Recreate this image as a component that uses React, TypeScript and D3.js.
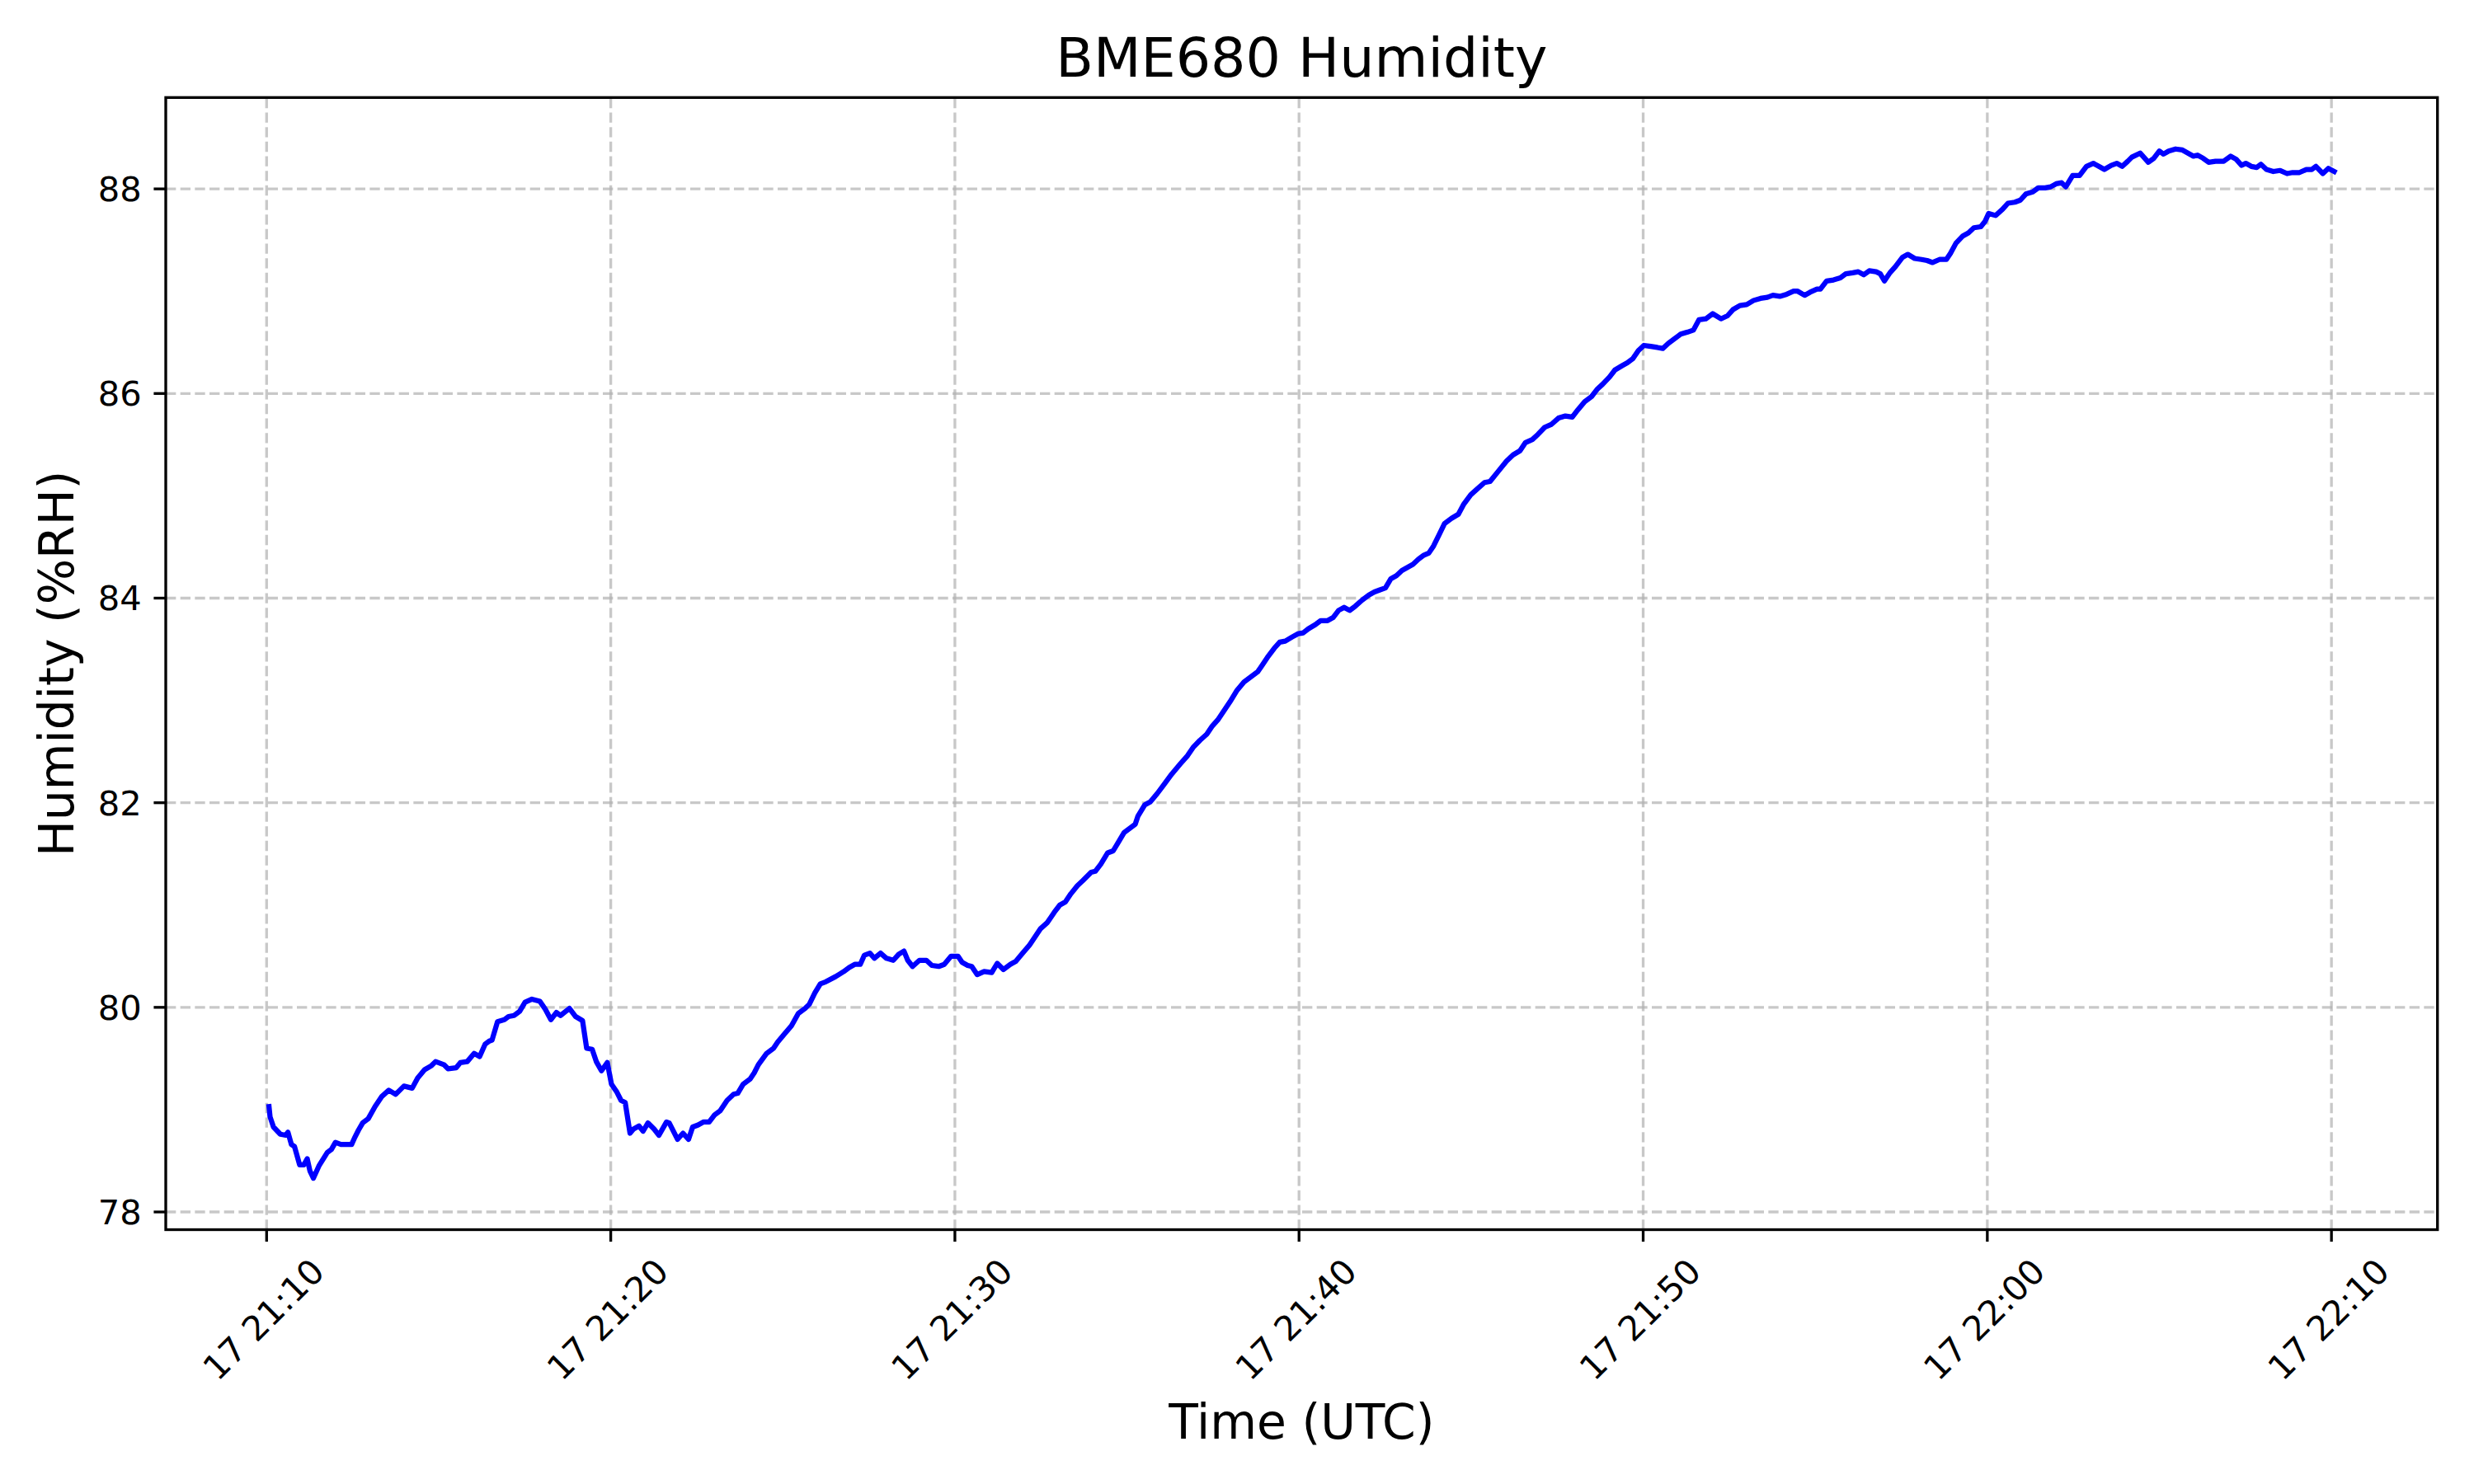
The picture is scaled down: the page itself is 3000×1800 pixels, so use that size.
import { useEffect, useRef } from "react";
import * as d3 from "d3";

// [minutes after 21:10 UTC, relative humidity %RH]
const readings: [number, number][] = [
  [0.07, 79.03], [0.1, 78.93], [0.2, 78.83], [0.4, 78.76], [0.56, 78.75], [0.62, 78.78],
  [0.72, 78.66], [0.81, 78.64], [0.96, 78.46], [1.08, 78.46], [1.18, 78.52], [1.26, 78.4],
  [1.36, 78.33], [1.52, 78.45], [1.76, 78.58], [1.88, 78.61], [2.0, 78.68], [2.16, 78.66],
  [2.47, 78.66], [2.55, 78.72], [2.67, 78.8], [2.79, 78.87], [2.95, 78.91], [3.15, 79.03],
  [3.35, 79.13], [3.55, 79.19], [3.75, 79.15], [3.87, 79.19], [3.99, 79.23], [4.23, 79.21],
  [4.39, 79.31], [4.59, 79.39], [4.79, 79.43], [4.91, 79.47], [5.15, 79.44], [5.27, 79.4],
  [5.51, 79.41], [5.63, 79.46], [5.83, 79.47], [6.03, 79.55], [6.19, 79.52], [6.35, 79.64],
  [6.47, 79.67], [6.55, 79.68], [6.71, 79.86], [6.91, 79.88], [7.03, 79.91], [7.19, 79.92],
  [7.35, 79.96], [7.51, 80.05], [7.71, 80.08], [7.94, 80.06], [8.1, 79.98], [8.26, 79.88],
  [8.42, 79.95], [8.54, 79.92], [8.8, 79.99], [8.98, 79.91], [9.18, 79.87], [9.3, 79.6],
  [9.46, 79.59], [9.58, 79.47], [9.73, 79.38], [9.9, 79.46], [10.02, 79.25], [10.18, 79.17],
  [10.3, 79.09], [10.42, 79.07], [10.56, 78.77], [10.66, 78.81], [10.82, 78.84], [10.94, 78.79],
  [11.08, 78.87], [11.26, 78.81], [11.4, 78.75], [11.62, 78.88], [11.7, 78.87], [11.94, 78.71],
  [12.1, 78.77], [12.26, 78.71], [12.38, 78.83], [12.54, 78.85], [12.7, 78.88], [12.86, 78.88],
  [13.02, 78.95], [13.18, 78.99], [13.38, 79.09], [13.57, 79.15], [13.69, 79.16], [13.85, 79.25],
  [14.05, 79.3], [14.17, 79.36], [14.29, 79.44], [14.53, 79.55], [14.73, 79.6], [14.85, 79.66],
  [15.05, 79.74], [15.25, 79.82], [15.45, 79.94], [15.65, 79.99], [15.77, 80.03], [15.93, 80.14],
  [16.09, 80.23], [16.25, 80.25], [16.53, 80.3], [16.77, 80.35], [16.93, 80.39], [17.09, 80.42],
  [17.25, 80.42], [17.37, 80.51], [17.53, 80.53], [17.66, 80.48], [17.84, 80.53], [18.01, 80.48],
  [18.21, 80.46], [18.37, 80.52], [18.52, 80.55], [18.63, 80.46], [18.77, 80.4], [18.97, 80.46],
  [19.17, 80.46], [19.33, 80.41], [19.53, 80.4], [19.69, 80.42], [19.89, 80.5], [20.09, 80.5],
  [20.21, 80.44], [20.37, 80.41], [20.49, 80.4], [20.65, 80.32], [20.85, 80.35], [21.07, 80.34],
  [21.23, 80.43], [21.41, 80.37], [21.61, 80.42], [21.77, 80.45], [21.97, 80.53], [22.17, 80.61],
  [22.33, 80.69], [22.49, 80.77], [22.69, 80.83], [22.89, 80.93], [23.05, 81.0], [23.21, 81.03],
  [23.37, 81.11], [23.56, 81.19], [23.72, 81.24], [23.96, 81.32], [24.08, 81.33], [24.24, 81.4],
  [24.44, 81.51], [24.6, 81.53], [24.76, 81.62], [24.92, 81.71], [25.08, 81.75], [25.24, 81.79],
  [25.32, 81.87], [25.52, 81.98], [25.68, 82.01], [25.88, 82.09], [26.08, 82.18], [26.3, 82.28],
  [26.55, 82.38], [26.76, 82.46], [26.92, 82.54], [27.12, 82.61], [27.32, 82.67], [27.48, 82.75],
  [27.64, 82.81], [27.8, 82.89], [28.0, 82.99], [28.2, 83.1], [28.4, 83.18], [28.6, 83.23],
  [28.8, 83.28], [28.92, 83.34], [29.08, 83.42], [29.28, 83.51], [29.44, 83.57], [29.6, 83.58],
  [29.8, 83.62], [29.96, 83.65], [30.12, 83.66], [30.27, 83.7], [30.47, 83.74], [30.63, 83.78],
  [30.83, 83.78], [30.99, 83.81], [31.15, 83.88], [31.31, 83.91], [31.47, 83.88], [31.63, 83.92],
  [31.83, 83.98], [32.03, 84.03], [32.19, 84.06], [32.35, 84.08], [32.51, 84.1], [32.67, 84.19],
  [32.83, 84.22], [32.99, 84.27], [33.15, 84.3], [33.31, 84.33], [33.47, 84.38], [33.63, 84.42],
  [33.77, 84.44], [33.91, 84.51], [34.07, 84.62], [34.23, 84.73], [34.43, 84.78], [34.63, 84.82],
  [34.79, 84.92], [34.99, 85.01], [35.19, 85.07], [35.39, 85.13], [35.55, 85.14], [35.79, 85.24],
  [36.03, 85.34], [36.22, 85.4], [36.42, 85.44], [36.58, 85.52], [36.78, 85.55], [36.94, 85.6],
  [37.14, 85.67], [37.34, 85.7], [37.54, 85.76], [37.74, 85.78], [37.94, 85.77], [38.1, 85.84],
  [38.3, 85.92], [38.5, 85.97], [38.66, 86.04], [38.82, 86.09], [39.02, 86.16], [39.18, 86.23],
  [39.38, 86.27], [39.54, 86.3], [39.7, 86.34], [39.86, 86.42], [40.02, 86.47], [40.22, 86.46],
  [40.41, 86.45], [40.57, 86.44], [40.73, 86.49], [40.93, 86.54], [41.09, 86.58], [41.29, 86.6],
  [41.46, 86.62], [41.62, 86.72], [41.82, 86.73], [42.02, 86.78], [42.26, 86.73], [42.45, 86.76],
  [42.61, 86.82], [42.81, 86.86], [43.01, 86.87], [43.21, 86.91], [43.41, 86.93], [43.61, 86.94],
  [43.77, 86.96], [43.97, 86.95], [44.17, 86.97], [44.37, 87.0], [44.49, 87.0], [44.69, 86.96],
  [44.85, 86.99], [45.05, 87.02], [45.15, 87.02], [45.33, 87.1], [45.53, 87.11], [45.73, 87.13],
  [45.89, 87.17], [46.09, 87.18], [46.25, 87.19], [46.41, 87.16], [46.57, 87.2], [46.77, 87.19],
  [46.89, 87.17], [47.01, 87.1], [47.17, 87.18], [47.33, 87.24], [47.53, 87.33], [47.69, 87.36],
  [47.89, 87.32], [48.09, 87.31], [48.25, 87.3], [48.41, 87.28], [48.61, 87.31], [48.81, 87.31],
  [48.93, 87.37], [49.09, 87.47], [49.29, 87.54], [49.45, 87.57], [49.61, 87.62], [49.81, 87.63],
  [49.93, 87.68], [50.04, 87.76], [50.24, 87.74], [50.44, 87.8], [50.6, 87.86], [50.8, 87.87],
  [50.96, 87.89], [51.12, 87.95], [51.32, 87.97], [51.48, 88.01], [51.68, 88.01], [51.84, 88.02],
  [52.0, 88.05], [52.16, 88.06], [52.28, 88.02], [52.48, 88.13], [52.68, 88.13], [52.88, 88.22],
  [53.08, 88.25], [53.24, 88.22], [53.4, 88.19], [53.6, 88.23], [53.76, 88.25], [53.92, 88.22],
  [54.08, 88.27], [54.2, 88.31], [54.44, 88.35], [54.68, 88.26], [54.84, 88.3], [55.0, 88.37],
  [55.12, 88.34], [55.27, 88.37], [55.47, 88.39], [55.67, 88.38], [55.83, 88.35], [55.99, 88.32],
  [56.11, 88.33], [56.27, 88.3], [56.43, 88.26], [56.63, 88.27], [56.87, 88.27], [57.07, 88.32],
  [57.23, 88.29], [57.39, 88.23], [57.51, 88.25], [57.67, 88.22], [57.83, 88.21], [57.95, 88.24],
  [58.11, 88.19], [58.31, 88.17], [58.51, 88.18], [58.71, 88.15], [58.87, 88.16], [59.07, 88.16],
  [59.27, 88.19], [59.43, 88.19], [59.55, 88.22], [59.75, 88.15], [59.91, 88.2], [60.08, 88.17],
];

const startTime = Date.UTC(2025, 0, 17, 21, 10, 0);
const yTicks = [78, 80, 82, 84, 86, 88];
const titleText = "BME680 Humidity";
const xLabelText = "Time (UTC)";
const yLabelText = "Humidity (%RH)";

const W = 3000;
const H = 1800;
const PT = 300 / 72; // figure was rendered at 300 dpi
const box = { left: 201, top: 118.3, right: 2955.7, bottom: 1491.5 };
const FONT = "'DejaVu Sans', sans-serif";

export default function App() {
  const ref = useRef<SVGSVGElement | null>(null);

  useEffect(() => {
    if (!ref.current) return;
    const svg = d3.select(ref.current);
    svg.selectAll("*").remove();

    const data = readings.map(([m, v]) => ({
      time: new Date(startTime + m * 60000),
      value: v,
    }));

    // matplotlib-style 5% margins around the data
    const [tMin, tMax] = d3.extent(data, (d) => d.time.getTime()) as [number, number];
    const tPad = (tMax - tMin) * 0.05;
    const x = d3
      .scaleUtc()
      .domain([new Date(tMin - tPad), new Date(tMax + tPad)])
      .range([box.left, box.right]);

    const [vMin, vMax] = d3.extent(data, (d) => d.value) as [number, number];
    const vPad = (vMax - vMin) * 0.05;
    const y = d3
      .scaleLinear()
      .domain([vMin - vPad, vMax + vPad])
      .range([box.bottom, box.top]);

    const xTicks = x.ticks(d3.utcMinute.every(10)!);
    const fmt = d3.utcFormat("%d %H:%M");

    svg.append("rect").attr("width", W).attr("height", H).attr("fill", "#fff");

    const grid = svg
      .append("g")
      .attr("stroke", "#b0b0b0")
      .attr("stroke-opacity", 0.7)
      .attr("stroke-width", 0.8 * PT)
      .attr("stroke-dasharray", `${3.7 * 0.8 * PT} ${1.6 * 0.8 * PT}`);

    grid
      .selectAll("line.gx")
      .data(xTicks)
      .join("line")
      .attr("class", "gx")
      .attr("x1", (d) => x(d))
      .attr("x2", (d) => x(d))
      .attr("y1", box.bottom)
      .attr("y2", box.top);

    grid
      .selectAll("line.gy")
      .data(yTicks)
      .join("line")
      .attr("class", "gy")
      .attr("x1", box.left)
      .attr("x2", box.right)
      .attr("y1", (d) => y(d))
      .attr("y2", (d) => y(d));

    const line = d3
      .line<{ time: Date; value: number }>()
      .x((d) => x(d.time))
      .y((d) => y(d.value));

    svg
      .append("path")
      .datum(data)
      .attr("d", line)
      .attr("fill", "none")
      .attr("stroke", "#0000ff")
      .attr("stroke-width", 1.5 * PT)
      .attr("stroke-linejoin", "round")
      .attr("stroke-linecap", "square");

    svg
      .append("rect")
      .attr("x", box.left)
      .attr("y", box.top)
      .attr("width", box.right - box.left)
      .attr("height", box.bottom - box.top)
      .attr("fill", "none")
      .attr("stroke", "#000")
      .attr("stroke-width", 0.8 * PT);

    const tickLen = 3.5 * PT;
    const ticks = svg.append("g").attr("stroke", "#000").attr("stroke-width", 0.8 * PT);
    ticks
      .selectAll("line.tx")
      .data(xTicks)
      .join("line")
      .attr("class", "tx")
      .attr("x1", (d) => x(d))
      .attr("x2", (d) => x(d))
      .attr("y1", box.bottom)
      .attr("y2", box.bottom + tickLen);
    ticks
      .selectAll("line.ty")
      .data(yTicks)
      .join("line")
      .attr("class", "ty")
      .attr("x1", box.left)
      .attr("x2", box.left - tickLen)
      .attr("y1", (d) => y(d))
      .attr("y2", (d) => y(d));

    const labels = svg.append("g").attr("font-family", FONT).attr("fill", "#000");

    labels
      .selectAll("text.ly")
      .data(yTicks)
      .join("text")
      .attr("class", "ly")
      .attr("x", box.left - 2 * tickLen)
      .attr("y", (d) => y(d))
      .attr("dy", "0.36em")
      .attr("text-anchor", "end")
      .attr("font-size", 10 * PT)
      .text((d) => String(d));

    labels
      .selectAll("text.lx")
      .data(xTicks)
      .join("text")
      .attr("class", "lx")
      .attr("transform", (d) => `translate(${x(d) - 4},${box.bottom + 108.5}) rotate(-45)`)
      .attr("dy", "0.36em")
      .attr("text-anchor", "middle")
      .attr("font-size", 10 * PT)
      .text((d) => fmt(d));

    labels
      .append("text")
      .attr("x", (box.left + box.right) / 2)
      .attr("y", box.top - 6 * PT)
      .attr("text-anchor", "middle")
      .attr("font-size", 16 * PT)
      .text(titleText);

    labels
      .append("text")
      .attr("x", (box.left + box.right) / 2)
      .attr("y", 1745)
      .attr("text-anchor", "middle")
      .attr("font-size", 14 * PT)
      .text(xLabelText);

    labels
      .append("text")
      .attr("transform", `translate(89,${(box.top + box.bottom) / 2}) rotate(-90)`)
      .attr("text-anchor", "middle")
      .attr("font-size", 14 * PT)
      .text(yLabelText);
  }, []);

  return (
    <svg
      ref={ref}
      width={W}
      height={H}
      style={{ position: "absolute", left: 0, top: 0, display: "block" }}
    />
  );
}
